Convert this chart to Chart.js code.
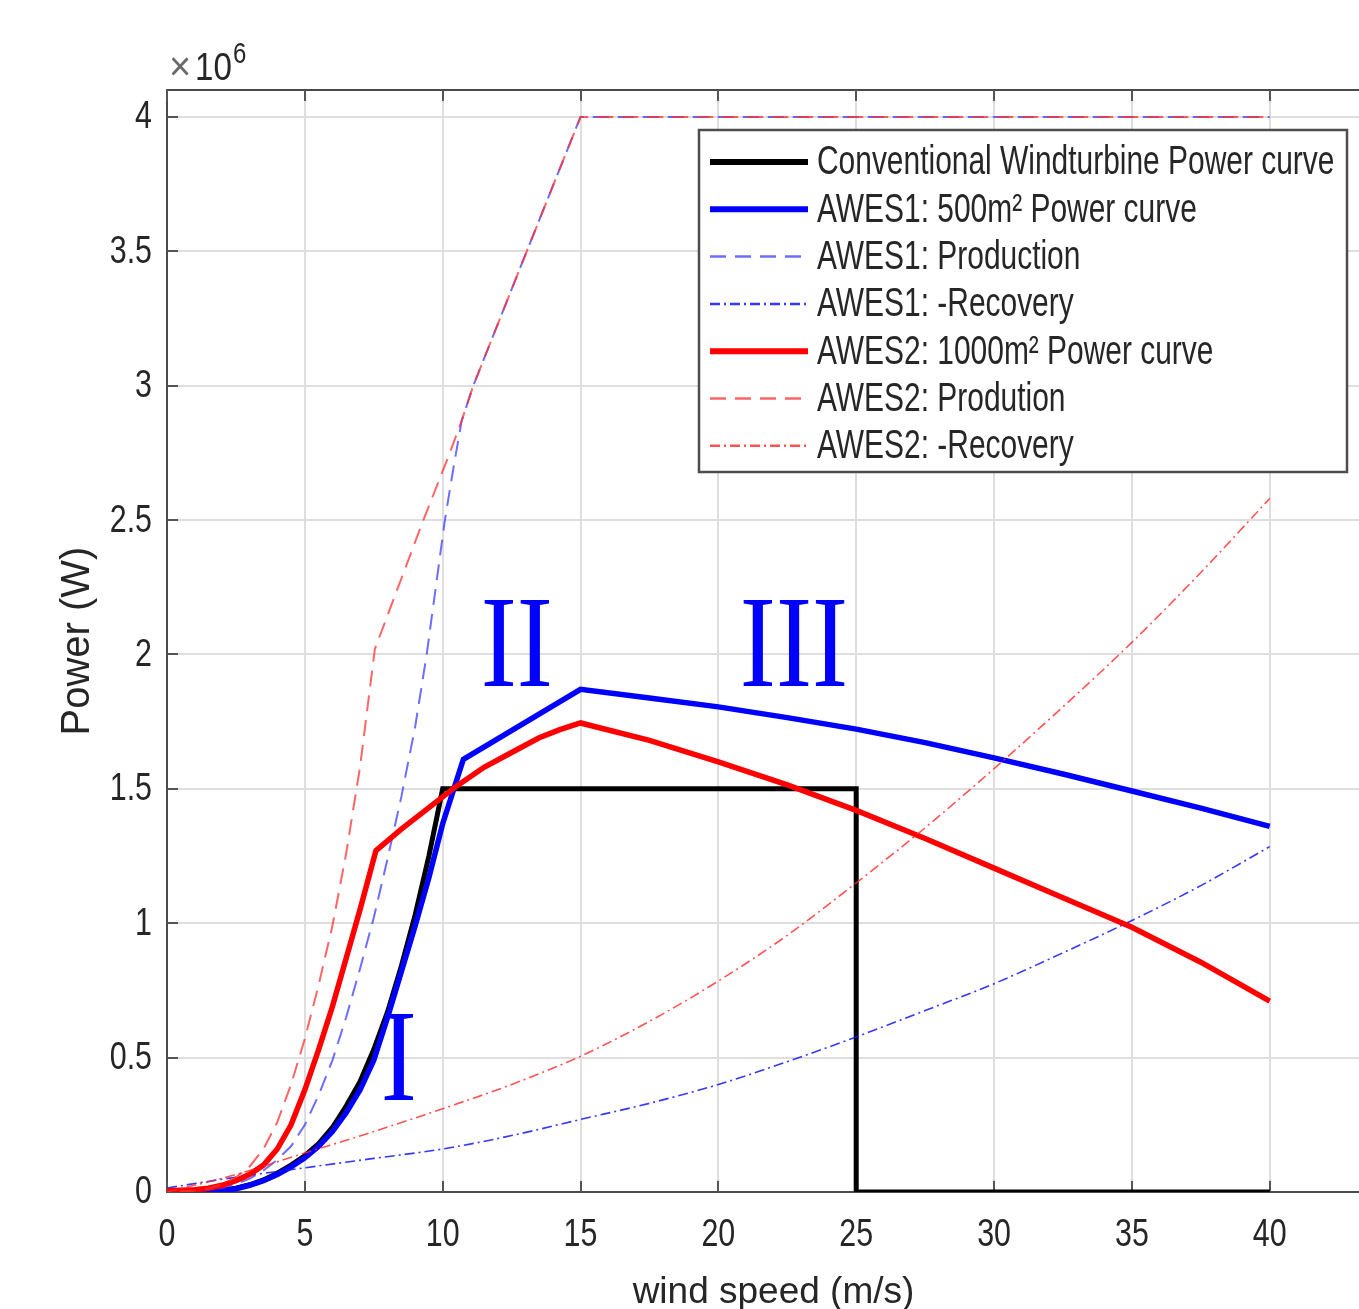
<!DOCTYPE html>
<html>
<head>
<meta charset="utf-8">
<title>Power curves: conventional wind turbine vs AWES</title>
<script src="https://cdn.jsdelivr.net/npm/chart.js@4.4.1/dist/chart.umd.min.js"></script>
<style>
  html, body { margin: 0; padding: 0; background: #ffffff; overflow: hidden; }
  #wrap { position: relative; width: 1380px; height: 1309px; }
</style>
</head>
<body>
<div id="wrap"><canvas id="chart" width="1380" height="1309"></canvas></div>
<script>
// ---- tick labels ----
const xTickValues = [0, 5, 10, 15, 20, 25, 30, 35, 40];
const yTickValues = [0, 0.5, 1, 1.5, 2, 2.5, 3, 3.5, 4];

// ---- series names ----
const seriesNames = [
  'Conventional Windturbine Power curve',
  'AWES1: 500m\u00B2 Power curve',
  'AWES1: Production',
  'AWES1: -Recovery',
  'AWES2: 1000m\u00B2 Power curve',
  'AWES2: Prodution',
  'AWES2: -Recovery'
];

// ---- series values (wind speed in m/s, power in units of 10^6 W) ----
const convSpeed = [0, 1, 1.5, 2, 2.5, 3, 3.5, 4, 4.5, 5, 5.5, 6, 6.5, 7, 7.5, 8, 8.5, 9, 9.5, 10, 25, 25, 40];
const convPower = [0, 0, 0.002, 0.006, 0.014, 0.027, 0.045, 0.07, 0.1, 0.135, 0.18, 0.24, 0.32, 0.41, 0.53, 0.67, 0.84, 1.03, 1.25, 1.5, 1.5, 0, 0];

const awes1Speed = [0, 1, 1.5, 2, 2.5, 3, 3.5, 4, 4.5, 5, 5.5, 6, 6.5, 7, 7.5, 8, 8.5, 9, 9.5, 10, 10.75,
                    15, 17.5, 20, 22.5, 25, 27.5, 30, 32.5, 35, 37.5, 40];
const awes1Power = [0, 0, 0.002, 0.005, 0.012, 0.025, 0.042, 0.065, 0.093, 0.127, 0.17, 0.225, 0.295, 0.38, 0.49, 0.65, 0.82, 0.99, 1.17, 1.37, 1.61,
                    1.87, 1.838, 1.805, 1.765, 1.722, 1.672, 1.615, 1.555, 1.492, 1.428, 1.36];

const awes1ProdSpeed = [0, 1, 1.5, 2, 2.5, 3, 3.5, 4, 4.5, 5, 5.5, 6, 6.5, 7, 7.5, 8, 8.5, 9, 9.42, 10.08, 10.4, 10.69, 11.11, 13.05, 15, 40];
const awes1Prod      = [0, 0.003, 0.008, 0.015, 0.03, 0.05, 0.08, 0.12, 0.17, 0.25, 0.36, 0.49, 0.65, 0.83, 1.02, 1.24, 1.47, 1.73, 2.0, 2.5, 2.7, 2.87, 3.0, 3.5, 4.0, 4.0];

const awes1RecSpeed = [0, 2.5, 5, 7.5, 10, 12.5, 15, 17.5, 20, 22.5, 25, 27.5, 30, 32.5, 35, 37.5, 40];
const awes1Rec      = [0.015, 0.055, 0.09, 0.125, 0.16, 0.21, 0.27, 0.33, 0.40, 0.485, 0.577, 0.675, 0.775, 0.89, 1.01, 1.14, 1.285];

const awes2Speed = [0, 1, 1.5, 2, 2.5, 3, 3.5, 4, 4.5, 5, 5.5, 6, 6.5, 7, 7.58, 8.5, 9.5, 10.5, 11.5, 12.5, 13.5, 14.25,
                    15, 17.5, 20, 22.5, 25, 27.5, 30, 32.5, 35, 37.5, 40];
const awes2Power = [0.005, 0.008, 0.014, 0.025, 0.042, 0.066, 0.10, 0.16, 0.25, 0.38, 0.53, 0.69, 0.87, 1.05, 1.27, 1.35, 1.43, 1.51, 1.58, 1.635, 1.69, 1.72,
                    1.745, 1.68, 1.60, 1.515, 1.42, 1.315, 1.205, 1.095, 0.985, 0.855, 0.71];

const awes2ProdSpeed = [0, 1, 1.5, 2, 2.5, 3, 3.5, 4, 4.5, 5, 5.5, 6, 6.5, 7, 7.54, 8.2, 9.3, 10.26, 10.69, 11.11, 13.05, 15, 40];
const awes2Prod      = [0, 0.005, 0.012, 0.028, 0.055, 0.095, 0.16, 0.26, 0.4, 0.57, 0.77, 0.99, 1.26, 1.58, 2.02, 2.2, 2.5, 2.75, 2.87, 3.0, 3.5, 4.0, 4.0];

const awes2RecSpeed = [0, 2.5, 5, 7.5, 10, 12.5, 15, 17.5, 20, 22.5, 25, 27.5, 30, 32.5, 35, 37.5, 40];
const awes2Rec      = [0, 0.065, 0.145, 0.225, 0.31, 0.40, 0.505, 0.635, 0.785, 0.955, 1.15, 1.355, 1.575, 1.805, 2.045, 2.305, 2.58];

// ---- operating-region labels (anchored in data units) ----
const regionText  = ['I', 'II', 'III'];
const regionSpeed = [8.41, 12.69, 22.74];
const regionPower = [0.342, 1.883, 1.883];

const SANS = "'Liberation Sans', Arial, sans-serif";
const SERIF = "'Liberation Serif', 'DejaVu Serif', serif";
const TEXT = '#262626';

function pairs(xs, ys) { return xs.map((x, i) => ({ x: x, y: ys[i] })); }

// text drawn with a horizontal squeeze (narrow lettering)
function narrowText(ctx, text, x, y, font, sx, align, baseline, color) {
  ctx.save();
  ctx.font = font;
  ctx.fillStyle = color;
  ctx.textAlign = align;
  ctx.textBaseline = baseline;
  ctx.translate(x, y);
  ctx.scale(sx, 1);
  ctx.fillText(text, 0, 0);
  ctx.restore();
}

const DASH = [16, 9];
const DASHDOT = [10, 4, 2, 4];

const datasets = [
  { label: seriesNames[0], data: pairs(convSpeed, convPower), borderColor: '#000000', borderWidth: 5, tension: 0 },
  { label: seriesNames[1], data: pairs(awes1Speed, awes1Power), borderColor: '#0000ff', borderWidth: 5.5, tension: 0 },
  { label: seriesNames[2], data: pairs(awes1ProdSpeed, awes1Prod), borderColor: 'rgba(60,60,255,0.75)', borderWidth: 2, borderDash: DASH, tension: 0 },
  { label: seriesNames[3], data: pairs(awes1RecSpeed, awes1Rec), borderColor: 'rgba(20,20,255,0.85)', borderWidth: 1.6, borderDash: DASHDOT, cubicInterpolationMode: 'monotone' },
  { label: seriesNames[4], data: pairs(awes2Speed, awes2Power), borderColor: '#ff0000', borderWidth: 5.5, tension: 0 },
  { label: seriesNames[5], data: pairs(awes2ProdSpeed, awes2Prod), borderColor: 'rgba(255,50,50,0.75)', borderWidth: 2, borderDash: DASH, borderDashOffset: 12, tension: 0 },
  { label: seriesNames[6], data: pairs(awes2RecSpeed, awes2Rec), borderColor: 'rgba(255,40,40,0.8)', borderWidth: 1.6, borderDash: DASHDOT, cubicInterpolationMode: 'monotone' }
];
// later series are painted on top of earlier ones
datasets.forEach((d, i) => { d.order = 20 - i; d.pointRadius = 0; d.fill = false; });

// box outline, inward tick marks, tick labels, region labels, legend and exponent
const framePlugin = {
  id: 'frame',
  beforeDatasetsDraw(chart) {
    const { ctx, chartArea: ca, scales } = chart;
    ctx.save();
    ctx.strokeStyle = '#4a4a4a';
    ctx.lineWidth = 2;
    ctx.beginPath();
    ctx.moveTo(ca.left - 1, ca.top);
    ctx.lineTo(ca.right, ca.top);
    ctx.stroke();
    ctx.strokeStyle = '#555555';
    ctx.beginPath();
    xTickValues.forEach(v => {
      const px = Math.round(scales.x.getPixelForValue(v));
      ctx.moveTo(px, ca.bottom); ctx.lineTo(px, ca.bottom - 11);
      ctx.moveTo(px, ca.top); ctx.lineTo(px, ca.top + 11);
    });
    yTickValues.forEach(v => {
      const py = Math.round(scales.y.getPixelForValue(v));
      ctx.moveTo(ca.left, py); ctx.lineTo(ca.left + 11, py);
    });
    ctx.stroke();
    ctx.restore();

    // tick labels
    const tickFont = '38px ' + SANS;
    xTickValues.forEach(v => {
      narrowText(ctx, String(v), scales.x.getPixelForValue(v), ca.bottom + 44, tickFont, 0.8, 'center', 'middle', TEXT);
    });
    yTickValues.forEach(v => {
      narrowText(ctx, String(v), ca.left - 15, scales.y.getPixelForValue(v) + 1, tickFont, 0.8, 'right', 'middle', TEXT);
    });
  },
  afterDatasetsDraw(chart) {
    const { ctx, chartArea: ca, scales } = chart;

    // region numerals
    regionText.forEach((t, i) => {
      narrowText(ctx, t, scales.x.getPixelForValue(regionSpeed[i]), scales.y.getPixelForValue(regionPower[i]),
                 '132px ' + SERIF, 0.82, 'center', 'alphabetic', '#0000ff');
    });

    // legend
    ctx.save();
    const bx = ca.left + 532, by = ca.top + 40, bw = 648, bh = 342;
    ctx.fillStyle = '#ffffff';
    ctx.fillRect(bx, by, bw, bh);
    ctx.strokeStyle = '#4d4d4d';
    ctx.lineWidth = 2.5;
    ctx.strokeRect(bx, by, bw, bh);
    chart.data.datasets.forEach((d, i) => {
      const y = by + 32 + i * 47.3;
      ctx.save();
      ctx.strokeStyle = d.borderColor;
      ctx.lineWidth = d.borderDash ? Math.max(2.5, d.borderWidth) : 6;
      ctx.setLineDash(d.borderDash || []);
      ctx.beginPath();
      ctx.moveTo(bx + 11, y);
      ctx.lineTo(bx + 109, y);
      ctx.stroke();
      ctx.restore();
      narrowText(ctx, d.label, bx + 118, y + 1, '41px ' + SANS, 0.73, 'left', 'middle', TEXT);
    });
    ctx.restore();

    // x10^6 exponent above the y axis
    narrowText(ctx, '\u00D7', ca.left + 2, ca.top - 10, '40px ' + SANS, 0.95, 'left', 'alphabetic', '#6a6a6a');
    narrowText(ctx, '10', ca.left + 28, ca.top - 10, '39px ' + SANS, 0.85, 'left', 'alphabetic', TEXT);
    narrowText(ctx, '6', ca.left + 66, ca.top - 27, '30px ' + SANS, 0.8, 'left', 'alphabetic', TEXT);
  }
};

new Chart(document.getElementById('chart'), {
  type: 'line',
  data: { datasets: datasets },
  options: {
    responsive: false,
    animation: false,
    events: [],
    layout: { padding: { top: 90, left: 0, right: 0, bottom: 0 } },
    plugins: { legend: { display: false }, tooltip: { enabled: false } },
    scales: {
      x: {
        type: 'linear', min: 0, max: 44, position: 'bottom',
        afterBuildTicks: s => { s.ticks = xTickValues.map(v => ({ value: v })); },
        afterFit: s => { s.height = 117; },
        ticks: { display: false },
        grid: { color: '#dedede', lineWidth: 2, drawTicks: false },
        border: { display: true, color: '#4a4a4a', width: 2 },
        title: { display: true, text: 'wind speed (m/s)', color: TEXT, font: { family: SANS, size: 37, lineHeight: 0.87 }, padding: 0 }
      },
      y: {
        type: 'linear', min: 0, max: 4.1, position: 'left',
        afterBuildTicks: s => { s.ticks = yTickValues.map(v => ({ value: v })); },
        afterFit: s => { s.width = 167; },
        ticks: { display: false },
        grid: { color: '#dedede', lineWidth: 2, drawTicks: false },
        border: { display: true, color: '#4a4a4a', width: 2 },
        title: { display: true, text: 'Power (W)', color: TEXT, font: { family: SANS, size: 40 }, padding: { top: 54, bottom: 0 } }
      }
    }
  },
  plugins: [framePlugin]
});
</script>
</body>
</html>
